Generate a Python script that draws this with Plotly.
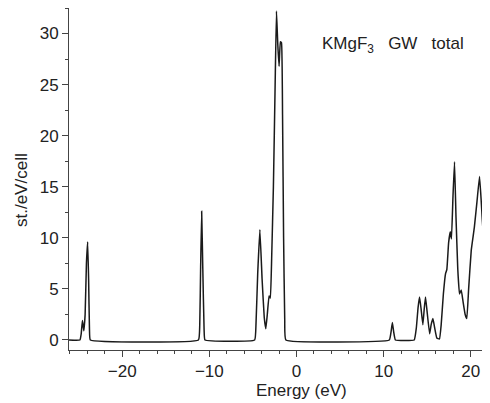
import plotly.graph_objects as go

# total DOS of KMgF3 (GW)
energy = [-26.1, -24.85, -24.7, -24.56, -24.4, -24.25, -24.1, -23.96, -23.85, -23.75, -23.65,
          -11.25, -11.1, -11.0, -10.88, -10.75, -10.6, -10.5,
          -4.8, -4.65, -4.45, -4.2, -3.95, -3.7, -3.52, -3.35, -3.15, -3.0, -2.85, -2.65,
          -2.45, -2.3, -2.15, -2.0, -1.85, -1.72, -1.6, -1.48, -1.35, -1.22,
          10.65, 10.85, 11.0, 11.15, 11.35,
          13.5, 13.75, 13.95, 14.12, 14.3, 14.5, 14.65, 14.8, 14.98, 15.27, 15.45, 15.65,
          15.85, 16.1, 16.4, 16.6, 16.85, 17.1, 17.25, 17.45, 17.64, 17.78, 17.95, 18.13,
          18.3, 18.5, 18.7, 18.9, 19.1, 19.35, 19.54, 19.75, 20.05, 20.4, 20.7, 21.0,
          21.2, 21.46, 21.65, 21.84, 22.0, 22.15]
dos = [0, 0, 0.6, 1.9, 0.9, 2.5, 7.5, 9.6, 6, 1, 0,
       0, 1.5, 7, 12.6, 7, 1, 0,
       0, 1.5, 6.5, 10.8, 6, 2.2, 1.1, 2.5, 4.3, 4.1, 8, 15,
       25, 32.2, 29, 26.8, 29.2, 29.1, 22, 10, 2, 0,
       0, 0.8, 1.7, 0.8, 0,
       0, 1.2, 3.2, 4.2, 3.0, 1.5, 3.0, 4.2, 2.8, 0.6, 1.5, 2.1,
       1.2, 0.2, 0.1, 1.5, 4.5, 6.5, 6.9, 9.5, 10.6, 9.9, 14, 17.45,
       12, 7, 4.5, 4.9, 3.8, 2.5, 2.1, 5, 8.8, 11, 13.5, 16.0,
       13.5, 9.9, 10.8, 11.2, 10, 8.1]

fnt = "Liberation Sans, Arial, sans-serif"

# page has an 8px body margin, so the figure is drawn 8px smaller
W, H = 482, 395
L, B = 61, 53
pw, ph = W - L, H - B

fig = go.Figure()
fig.add_trace(go.Scatter(x=energy, y=dos, mode="lines",
                         line=dict(color="#1a1a1a", width=1.5, shape="spline", smoothing=0.3),
                         showlegend=False))

axis_common = dict(showline=True, linecolor="#444", linewidth=1, ticks="outside",
                   tickcolor="#444", ticklen=6, showgrid=False, zeroline=False,
                   tickfont=dict(family=fnt, size=17, color="#222"))
fig.update_xaxes(range=[-26.1, 22.2], tick0=0, dtick=10,
                 minor=dict(dtick=2, ticklen=3, tickcolor="#444", ticks="outside"),
                 **axis_common)
fig.update_yaxes(range=[-0.98, 32.5], tick0=0, dtick=5,
                 minor=dict(dtick=2.5, ticklen=3, tickcolor="#444", ticks="outside"),
                 **axis_common)

fig.add_annotation(text="KMgF<sub>3</sub>\u00a0\u00a0\u00a0GW\u00a0\u00a0\u00a0total",
                   xref="paper", yref="paper", x=(312 - L) / pw, y=(ph - 37) / ph,
                   xanchor="left", yanchor="middle", showarrow=False,
                   font=dict(family=fnt, size=17, color="#222"))
fig.add_annotation(text="Energy (eV)", xref="paper", yref="paper",
                   x=(293 - L) / pw, y=-(382 - ph) / ph,
                   xanchor="center", yanchor="middle", showarrow=False,
                   font=dict(family=fnt, size=17, color="#222"))
fig.add_annotation(text="st./eV/cell", xref="paper", yref="paper",
                   x=-(L - 13) / pw, y=(ph - 182) / ph, textangle=-90,
                   xanchor="center", yanchor="middle", showarrow=False,
                   font=dict(family=fnt, size=17, color="#222"))

fig.update_layout(width=W, height=H, margin=dict(l=L, r=0, t=0, b=B),
                  plot_bgcolor="white", paper_bgcolor="white")

fig.write_html("out.html")
